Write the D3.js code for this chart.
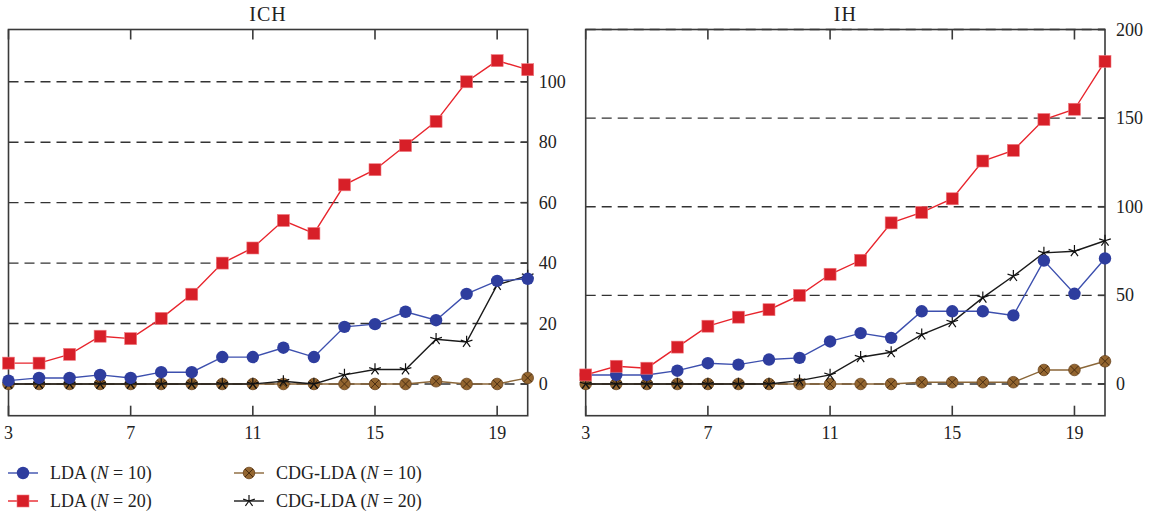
<!DOCTYPE html>
<html>
<head>
<meta charset="utf-8">
<script src="https://cdn.jsdelivr.net/npm/d3@7"></script>
<style>
  body { margin: 0; background: #fff; }
  svg text { font-family: "Liberation Serif", "DejaVu Serif", serif; fill: #222; }
</style>
</head>
<body>
<div id="chart"></div>
<script>
// x categories
const xValues = [3, 4, 5, 6, 7, 8, 9, 10, 11, 12, 13, 14, 15, 16, 17, 18, 19, 20];
const xTicks = [3, 7, 11, 15, 19];

// ICH panel
const ichLda10 = [1.1, 2, 2, 3, 2, 3.9, 3.9, 8.9, 8.9, 12, 8.9, 18.9, 19.8, 23.9, 21.1, 29.8, 34.1, 34.8];
const ichLda20 = [6.9, 6.9, 9.8, 15.8, 15, 21.7, 29.7, 40, 45, 54.1, 49.8, 65.9, 70.9, 78.9, 86.9, 100, 107, 104];
const ichCdg10 = [0, 0, 0, 0, 0, 0, 0, 0, 0, 0, 0, 0, 0, 0, 0.9, 0, 0, 2];
const ichCdg20 = [0, 0, 0, 0, 0, 0, 0, 0, 0, 0.9, 0, 3, 4.8, 4.8, 14.8, 13.9, 32.8, 35.8];
const ichTicks = [0, 20, 40, 60, 80, 100];

// IH panel
const ihLda10 = [5.1, 5.1, 5.1, 7.5, 11.7, 10.9, 13.8, 14.7, 24, 28.7, 26, 41, 41, 41, 38.7, 69.6, 50.9, 70.8];
const ihLda20 = [5.1, 10, 8.9, 20.8, 32.6, 37.7, 41.9, 50, 61.9, 69.8, 90.9, 96.8, 104.5, 125.8, 131.8, 149.2, 155, 182];
const ihCdg10 = [0, 0, 0, 0, 0, 0, 0, 0, 0, 0, 0, 1, 1, 1, 1, 7.9, 7.9, 12.8];
const ihCdg20 = [0, 0, 0, 0, 0, 0, 0, 1.9, 5.1, 15.1, 17.9, 27.9, 34.9, 48.7, 60.9, 74, 74.9, 80.8];
const ihTicks = [0, 50, 100, 150, 200];

const seriesNames = ["LDA", "LDA", "CDG-LDA", "CDG-LDA"];
const seriesN = ["10", "20", "10", "20"];

const W = 1153, H = 516;
const svg = d3.select("#chart").append("svg")
    .attr("width", W)
    .attr("height", H);

// 5-armed star symbol like the reference
const star = {
    draw(context, size) {
        const r = Math.sqrt(size) / 2;
        for (let k = 0; k < 5; k++) {
            const a = -Math.PI / 2 + k * 2 * Math.PI / 5;
            context.moveTo(0, 0);
            context.lineTo(r * Math.cos(a), r * Math.sin(a));
        }
    }
};

const styles = [
    {line: "#3c4fae", kind: "circle", fill: "#2e3d9e"},
    {line: "#e8242c", kind: "square", fill: "#d71f28"},
    {line: "#8a6638", kind: "brown", fill: "#93652f"},
    {line: "#1a1a1a", kind: "star", fill: "none"}
];

function drawMarker(g, kind, fill) {
    if (kind === "circle") {
        g.append("circle").attr("r", 6.2).attr("fill", fill);
    } else if (kind === "square") {
        g.append("rect").attr("x", -6).attr("y", -6).attr("width", 12).attr("height", 12)
            .attr("fill", fill).attr("stroke", "#f07a80").attr("stroke-width", 0.6);
    } else if (kind === "brown") {
        g.append("circle").attr("r", 5.8).attr("fill", fill).attr("stroke", "#6b4520").attr("stroke-width", 0.8);
        g.append("path").attr("d", "M-4,-4L4,4M-4,4L4,-4").attr("stroke", "#4a2e12").attr("stroke-width", 1);
    } else {
        g.append("path").attr("d", d3.symbol().type(star).size(150)())
            .attr("stroke", "#111").attr("stroke-width", 1.2).attr("fill", "none");
    }
}

function drawPanel(opts) {
    let x = d3.scaleLinear().domain([3, 20]).range([opts.left, opts.right]);
    let y = d3.scaleLinear().domain(opts.yDomain).range([opts.bottom, opts.top]);

    let g = svg.append("g");

    // dashed grid lines
    g.selectAll(".grid").data(opts.yTicks).enter().append("line")
        .attr("class", "grid")
        .attr("x1", opts.left).attr("x2", opts.right)
        .attr("y1", d => y(d)).attr("y2", d => y(d))
        .attr("stroke", "#333").attr("stroke-width", 1.4)
        .attr("stroke-dasharray", "10,6");

    // frame
    g.append("rect")
        .attr("x", opts.left).attr("y", opts.top)
        .attr("width", opts.right - opts.left).attr("height", opts.bottom - opts.top)
        .attr("fill", "none").attr("stroke", "#3a3a3a").attr("stroke-width", 1.6);

    // inward ticks on top and bottom
    xTicks.forEach(t => {
        g.append("line").attr("x1", x(t)).attr("x2", x(t))
            .attr("y1", opts.top).attr("y2", opts.top + 10)
            .attr("stroke", "#3a3a3a").attr("stroke-width", 1.6);
        g.append("line").attr("x1", x(t)).attr("x2", x(t))
            .attr("y1", opts.bottom).attr("y2", opts.bottom - 10)
            .attr("stroke", "#3a3a3a").attr("stroke-width", 1.6);
    });
    // inward ticks on right
    opts.yTicks.forEach(t => {
        g.append("line").attr("x1", opts.right).attr("x2", opts.right - 7)
            .attr("y1", y(t)).attr("y2", y(t))
            .attr("stroke", "#3a3a3a").attr("stroke-width", 1.6);
    });

    // axis labels
    g.selectAll(".xlab").data(xTicks).enter().append("text")
        .attr("class", "xlab")
        .attr("x", d => x(d)).attr("y", opts.bottom + 23)
        .attr("text-anchor", "middle")
        .attr("font-size", 18)
        .text(d => d);
    g.selectAll(".ylab").data(opts.yTicks).enter().append("text")
        .attr("class", "ylab")
        .attr("x", opts.right + 11).attr("y", d => y(d) + 6)
        .attr("font-size", 18)
        .text(d => d);

    // title
    g.append("text")
        .attr("x", (opts.left + opts.right) / 2).attr("y", 21)
        .attr("text-anchor", "middle")
        .attr("font-size", 20)
        .attr("letter-spacing", 1)
        .text(opts.title);

    let line = d3.line().x((d, i) => x(xValues[i])).y(d => y(d));

    // draw in order: brown, star, blue, red (so zero markers overlap like the reference)
    [2, 3, 0, 1].forEach(si => {
        let vals = opts.series[si];
        let st = styles[si];
        g.append("path").datum(vals)
            .attr("d", line)
            .attr("fill", "none")
            .attr("stroke", st.line)
            .attr("stroke-width", 1.4);
        vals.forEach((v, i) => {
            let m = g.append("g").attr("transform", `translate(${x(xValues[i])},${y(v)})`);
            drawMarker(m, st.kind, st.fill);
        });
    });
}

drawPanel({
    title: "ICH", left: 8.5, right: 527.7, top: 29.5, bottom: 415.7,
    yDomain: [-10.5, 117.3], yTicks: ichTicks,
    series: [ichLda10, ichLda20, ichCdg10, ichCdg20]
});
drawPanel({
    title: "IH", left: 585.7, right: 1105, top: 29.5, bottom: 415.7,
    yDomain: [-17.9, 200], yTicks: ihTicks,
    series: [ihLda10, ihLda20, ihCdg10, ihCdg20]
});

// legend
const legendPos = [[8, 473], [8, 501], [234, 473], [234, 501]];
legendPos.forEach((p, i) => {
    let st = styles[i];
    let lg = svg.append("g").attr("transform", `translate(${p[0]},${p[1]})`);
    lg.append("line").attr("x1", 0).attr("x2", 30).attr("y1", 0).attr("y2", 0)
        .attr("stroke", st.line).attr("stroke-width", 1.4);
    let m = lg.append("g").attr("transform", "translate(15,0)");
    drawMarker(m, st.kind, st.fill);
    let t = lg.append("text").attr("x", 42).attr("y", 6).attr("font-size", 18);
    t.append("tspan").text(seriesNames[i] + " (");
    t.append("tspan").attr("font-style", "italic").text("N");
    t.append("tspan").text(" = " + seriesN[i] + ")");
});
</script>
</body>
</html>
